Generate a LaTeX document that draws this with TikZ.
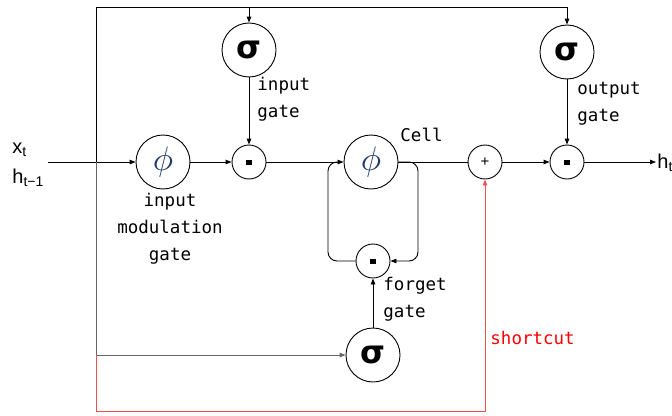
\documentclass[tikz,border=0pt]{standalone}
\usepackage{fontspec}
\setmainfont{Liberation Sans}
\newfontfamily\lblfont{DejaVu Sans Mono}
\newfontfamily\sigfont{DejaVu Sans}
\usetikzlibrary{arrows.meta,calc}
\definecolor{phicol}{RGB}{35,55,105}
\definecolor{scred}{RGB}{240,80,80}
\begin{document}
\begin{tikzpicture}[x=1pt,y=-1pt,line width=0.9pt,
  >={Triangle[length=6pt,width=4.5pt]},
  big/.style={circle,draw,minimum size=54pt,inner sep=0pt},
  small/.style={circle,draw,minimum size=34pt,inner sep=0pt},
  sig/.style={big,font=\sigfont\bfseries\fontsize{32}{32}\selectfont},
  phin/.style={big,text=phicol},
  mul/.style={small,font=\normalsize},
  lbl/.style={font=\lblfont\fontsize{17.5}{27}\selectfont,align=left,inner sep=0pt},
  inlbl/.style={font=\fontsize{20}{27}\selectfont,inner sep=0pt}]
\useasboundingbox (0,0) rectangle (672,415);

% nodes
\node[sig] (isig) at (249,50) {σ};
\node[sig] (osig) at (567,52) {σ};
\node[phin] (iphi) at (163,162) {\scalebox{3.4}{$\phi$}};
\node[mul] (imul) at (249,162) {\rule[-2.5pt]{6pt}{5pt}};
\node[phin] (cphi) at (371,162) {\scalebox{3.4}{$\phi$}};
\node[small,font=\fontsize{15}{15}\selectfont] (plus) at (485,162) {+};
\node[mul] (omul) at (567,162) {\rule[-2.5pt]{6pt}{5pt}};
\node[mul] (fmul) at (373,261) {\rule[-2.5pt]{6pt}{5pt}};
\node[sig] (fsig) at (373,355) {σ};

% coordinates
\coordinate (xin) at (48,162);
\coordinate (jtl) at (96,7);
\coordinate (jml) at (96,162);
\coordinate (jbl) at (96,355);
\coordinate (jrb) at (96,411);
\coordinate (ltop) at (328,162);
\coordinate (rtop) at (418,162);
\coordinate (hout) at (656,162);

% main flow
\draw[->] (xin) -- (iphi.west);
\draw[->] (iphi.east) -- (imul.west);
\draw[->] (imul.east) -- (cphi.west);
\draw (cphi.east) -- (plus.west);
\draw[->] (plus.east) -- (omul.west);
\draw[->] (omul.east) -- (hout);

% top feed
\draw (jml) -- (jtl) -- (jtl -| osig);
\draw[->] (jtl -| isig) -- (isig.north);
\draw[->] (jtl -| osig) -- (osig.north);
\draw[->] (isig.south) -- (imul.north);
\draw[->] (osig.south) -- (omul.north);

% bottom feed
\draw[black!60] (jml) -- (jbl);
\draw[black!60,->] (jbl) -- (fsig.west);
\draw[->] (fsig.north) -- (fmul.south);

% cell loop
\draw[->,rounded corners=9pt] (cphi.east) -- (rtop) |- (fmul.east);
\draw[rounded corners=9pt] (fmul.west) -| (ltop) -- ($(ltop)+(12,0)$);

% shortcut
\draw[scred,->] (jbl) -- (jrb) -| (plus.south);

% labels
\node[lbl,anchor=north west] at (257,77) {input\\gate};
\node[lbl,anchor=north west] at (577,82) {output\\gate};
\node[lbl,anchor=north west] at (383,277) {forget\\gate};
\node[lbl,anchor=west] at (400,135) {Cell};
\node[lbl,align=center,anchor=north] at (170,193) {input\\modulation\\gate};
\node[lbl,anchor=west,text=red] at (490,338) {shortcut};
\node[inlbl,anchor=west] at (12,150) {x\textsubscript{t}};
\node[inlbl,anchor=west] at (12,178) {h\textsubscript{t−1}};
\node[inlbl,anchor=west] at (657,163) {h\textsubscript{t}};
\end{tikzpicture}
\end{document}
